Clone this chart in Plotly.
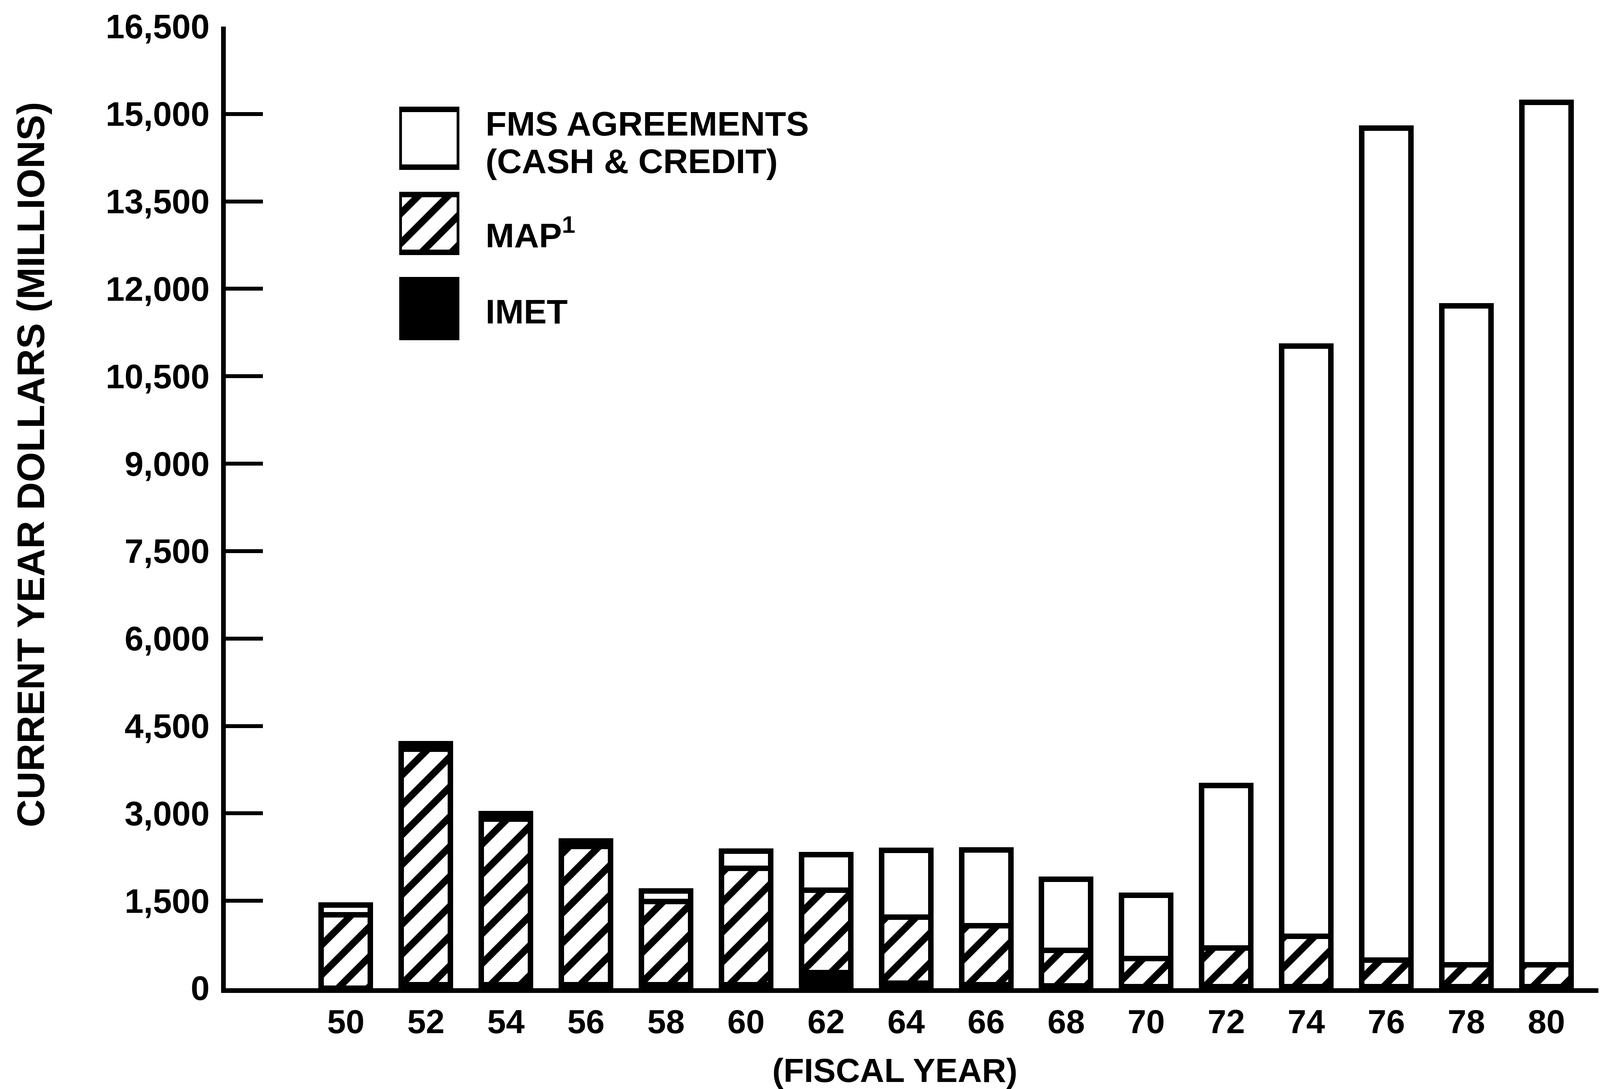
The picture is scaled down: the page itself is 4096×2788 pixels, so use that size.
import plotly.graph_objects as go

# ---------------- data ----------------
years = [50, 52, 54, 56, 58, 60, 62, 64, 66, 68, 70, 72, 74, 76, 78, 80]
year_labels = ["50", "52", "54", "56", "58", "60", "62", "64", "66", "68",
               "70", "72", "74", "76", "78", "80"]
imet = [0, 60, 60, 60, 60, 60, 270, 90, 60, 40, 30, 30, 30, 30, 30, 30]
map_vals = [1260, 4040, 2840, 2370, 1430, 2000, 1410, 1130, 1010, 610, 480,
            660, 860, 450, 375, 375]
fms = [170, 95, 95, 95, 180, 290, 615, 1145, 1305, 1220, 1085, 2785,
       10130, 14275, 11305, 14795]

ytick_vals = [0, 1500, 3000, 4500, 6000, 7500, 9000, 10500, 12000, 13500,
              15000, 16500]
ytick_text = ["0", "1,500", "3,000", "4,500", "6,000", "7,500", "9,000",
              "10,500", "12,000", "13,500", "15,000", "16,500"]

series_names = ["IMET", "MAP", "FMS AGREEMENTS (CASH & CREDIT)"]
legend_rows = [0, 1, 2]
legend_text = ["FMS AGREEMENTS", "(CASH & CREDIT)", "MAP<sup>1</sup>", "IMET"]
x_title = "(FISCAL YEAR)"
y_title = "CURRENT YEAR DOLLARS (MILLIONS)"

# ---------------- layout geometry (target pixels) ----------------
W, H = 4096, 2788
PL, PR, PT, PB = 578, 4092, 68, 2530   # plot area edges


def px_x(p):
    return (p - PL) / (PR - PL)


def px_y(p):
    return (PB - p) / (PB - PT)


FONT = "Liberation Sans, Arial, sans-serif"
LW = 14
hatch = dict(shape="/", fgcolor="black", bgcolor="white", fgopacity=1,
             size=54, solidity=0.33)

fig = go.Figure()

fig.add_trace(go.Bar(x=years, y=imet, name=series_names[0], width=1.23,
                     marker=dict(color="black", line=dict(color="black", width=LW)),
                     showlegend=False))
fig.add_trace(go.Bar(x=years, y=map_vals, name=series_names[1], width=1.23,
                     marker=dict(color="white", line=dict(color="black", width=LW),
                                 pattern=hatch),
                     showlegend=False))
fig.add_trace(go.Bar(x=years, y=fms, name=series_names[2], width=1.23,
                     marker=dict(color="white", line=dict(color="black", width=LW)),
                     showlegend=False))

# legend swatches drawn as bars on an overlay axis
sw_fill = ["white", "white", "black"]
sw_pat = [None, hatch, None]
for row, fill, pat in zip(legend_rows, sw_fill, sw_pat):
    mk = dict(color=fill, line=dict(color="black", width=14))
    if pat:
        mk["pattern"] = pat
    fig.add_trace(go.Bar(x=[1], y=[row], orientation="h", width=0.68,
                         xaxis="x2", yaxis="y2", marker=mk, showlegend=False,
                         hoverinfo="skip"))

fig.update_layout(
    width=W, height=H,
    margin=dict(l=PL, r=W - PR, t=PT, b=H - PB, pad=0),
    paper_bgcolor="white", plot_bgcolor="white",
    barmode="stack", bargap=0,
    font=dict(family=FONT, color="black", size=86, weight="bold"),
    xaxis=dict(range=[47.0, 81.3], tickvals=years, ticktext=year_labels,
               showline=True, linewidth=12, linecolor="black", ticks="",
               showgrid=False, zeroline=False, ticklabelstandoff=0,
               tickfont=dict(size=86, family=FONT, weight="bold")),
    yaxis=dict(range=[0, 16500], tickvals=ytick_vals, ticktext=ytick_text,
               showline=True, linewidth=12, linecolor="black", ticks="inside",
               ticklen=95, tickwidth=10, tickcolor="black", showgrid=False,
               zeroline=False, ticklabelstandoff=12,
               tickfont=dict(size=87, family=FONT, weight="bold")),
    xaxis2=dict(domain=[px_x(1022), px_x(1176)], range=[0, 1], anchor="y2",
                visible=False, fixedrange=True),
    yaxis2=dict(domain=[px_y(899), px_y(245)], range=[2.5, -0.5], anchor="x2",
                visible=False, fixedrange=True),
)

ann = []
ann.append(dict(text=y_title, x=px_x(78), y=px_y(1190), textangle=-90,
                font=dict(size=99, family=FONT, weight="bold")))
ann.append(dict(text=x_title, x=px_x(2291), y=px_y(2740),
                font=dict(size=86, family=FONT, weight="bold")))
leg_y = [316, 413, 596, 797]
for t, yy in zip(legend_text, leg_y):
    ann.append(dict(text=t, x=px_x(1241), y=px_y(yy), xanchor="left",
                    font=dict(size=88, family=FONT, weight="bold")))
for a in ann:
    a.update(xref="paper", yref="paper", showarrow=False)
    a.setdefault("xanchor", "center")
    a.setdefault("yanchor", "middle")
fig.update_layout(annotations=ann)

fig.write_html("out.html", include_plotlyjs=True,
               config={"displayModeBar": False},
               post_script="document.body.style.margin='0';document.body.style.overflow='hidden';")
